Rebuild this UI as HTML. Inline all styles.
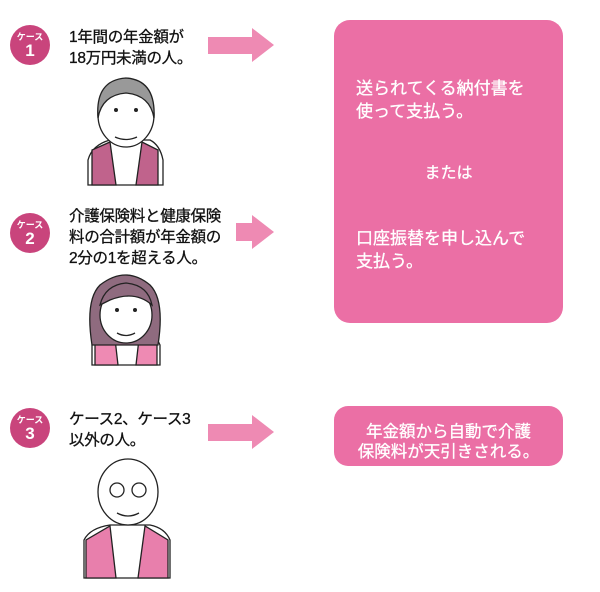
<!DOCTYPE html>
<html><head><meta charset="utf-8"><style>
body{margin:0;width:600px;height:592px;background:#fff;position:relative;overflow:hidden;font-family:"Liberation Sans","Noto Sans CJK JP",sans-serif}
.a{position:absolute}
.badge{position:absolute;width:40px;height:40px;border-radius:50%;background:#c9447c;color:#fff;text-align:center}
.badge .s{font-size:9px;font-weight:bold;line-height:10px;margin-top:7px}
.badge .n{font-size:17px;font-weight:bold;line-height:18px}
.t{position:absolute;left:69px;font-size:15.5px;line-height:21px;color:#111;letter-spacing:-0.3px;-webkit-text-stroke:0.3px #111}
.w{color:#fff;font-size:17px;line-height:23px;position:absolute;-webkit-text-stroke:0.3px #fff}
</style></head><body>
<div class="badge" style="left:10px;top:25px"><div class="s">ケース</div><div class="n">1</div></div>
<div class="t" style="top:27px">1年間の年金額が<br>18万円未満の人。</div>
<div class="badge" style="left:10px;top:213px"><div class="s">ケース</div><div class="n">2</div></div>
<div class="t" style="top:206px">介護保険料と健康保険<br>料の合計額が年金額の<br>2分の1を超える人。</div>
<div class="badge" style="left:10px;top:408px"><div class="s">ケース</div><div class="n">3</div></div>
<div class="t" style="top:409px">ケース2、ケース3<br>以外の人。</div>

<svg class="a" style="left:0;top:0" width="600" height="592">
<g fill="#ee8ab3">
<polygon points="208,37 252,37 252,28 274,45 252,62 252,54 208,54"/>
<polygon points="236,223 252,223 252,215 274,232 252,249 252,241 236,241"/>
<polygon points="208,424 252,424 252,415 274,432 252,449 252,441 208,441"/>
</g>
<g stroke="#222" stroke-width="1.3">
<path d="M88,185 L88,160 Q92,145 110,140 L150,140 Q160,145 163,160 L163,185Z" fill="#fff"/>
<path d="M92,185 L92,150 L110,142 L116,185Z M158,185 L158,150 L142,142 L136,185Z" fill="#c0638c"/>
<ellipse cx="126" cy="115" rx="28" ry="32" fill="#fff"/>
<path d="M98,118 Q95,80 126,78 Q156,80 154,118 Q150,95 126,93 Q102,95 98,118Z" fill="#999"/>
<path d="M115,137 Q126,142 137,137" fill="none"/>
<path d="M92,365 L92,345 Q96,332 114,330 L140,330 Q155,333 160,345 L160,365Z" fill="#fff"/>
<path d="M95,365 L95,340 L114,330 L118,365Z M157,365 L157,340 L140,330 L136,365Z" fill="#ee8ab3"/>
<path d="M92,345 Q85,300 100,285 Q126,265 150,285 Q165,300 158,345Z" fill="#8f6b7f"/>
<ellipse cx="126" cy="315" rx="26" ry="28" fill="#fff"/>
<path d="M100,305 Q105,285 126,283 Q148,285 152,305 Q135,290 110,300Z" fill="#8f6b7f"/>
<path d="M117,333 Q126,338 135,333" fill="none"/>
<path d="M84,578 L84,540 Q90,528 110,525 L150,525 Q165,528 170,540 L170,578Z" fill="#fff"/>
<path d="M86,578 L86,540 L110,526 L116,578Z M168,578 L168,540 L145,526 L138,578Z" fill="#e87fac"/>
<ellipse cx="128" cy="492" rx="30" ry="33" fill="#fff"/>
<circle cx="117" cy="490" r="7" fill="none"/><circle cx="139" cy="490" r="7" fill="none"/>
<path d="M117,513 Q128,519 139,513" fill="none"/>
</g>
<g fill="#222"><circle cx="116" cy="110" r="2"/><circle cx="136" cy="110" r="2"/><circle cx="117" cy="310" r="2"/><circle cx="135" cy="310" r="2"/></g>
</svg>

<div class="a" style="left:334px;top:20px;width:229px;height:303px;background:#eb6fa5;border-radius:16px"></div>
<div class="w" style="left:356px;top:77px">送られてくる納付書を<br>使って支払う。</div>
<div class="w" style="left:334px;width:229px;text-align:center;top:162px;font-size:16px">または</div>
<div class="w" style="left:356px;top:227px">口座振替を申し込んで<br>支払う。</div>
<div class="a" style="left:334px;top:406px;width:229px;height:60px;background:#eb6fa5;border-radius:14px"></div>
<div class="w" style="left:334px;width:229px;text-align:center;top:422px;font-size:16.5px;line-height:20px">年金額から自動で介護<br>保険料が天引きされる。</div>
</body></html>
